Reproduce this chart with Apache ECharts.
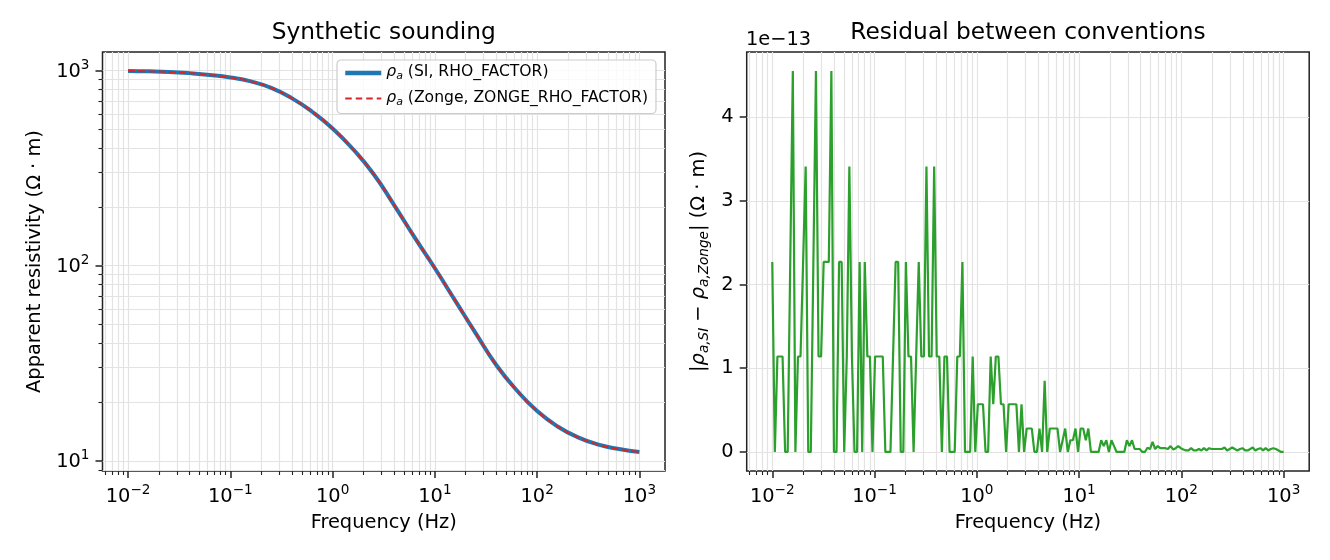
<!DOCTYPE html>
<html>
<head>
<meta charset="utf-8">
<title>Synthetic sounding</title>
<script src="https://cdn.jsdelivr.net/npm/echarts@6/dist/echarts.min.js"></script>
<style>
  html, body { margin: 0; padding: 0; background: #fff; }
  #main { width: 1330px; height: 560px; }
</style>
</head>
<body>
<div id="main"></div>
<script>
// ---- data ----
// left panel: apparent resistivity curve (both conventions coincide)
var sndFreqHz = [0.01, 0.01585, 0.02512, 0.03981, 0.0631, 0.1, 0.1585, 0.2512, 0.3981, 0.631,
                 1, 1.585, 2.512, 3.981, 6.31, 10, 15.85, 25.12, 39.81, 63.1,
                 100, 158.5, 251.2, 398.1, 631, 1000];
var rhoSI    = [995, 991, 984, 970, 950, 922, 880, 815, 722, 615,
                505, 395, 295, 205, 140, 97, 66, 45, 31, 23,
                18, 15, 13.2, 12.1, 11.5, 11.1];
var rhoZonge = [995, 991, 984, 970, 950, 922, 880, 815, 722, 615,
                505, 395, 295, 205, 140, 97, 66, 45, 31, 23,
                18, 15, 13.2, 12.1, 11.5, 11.1];

// right panel: |rho_SI - rho_Zonge| in units of 1e-13, 200 log-spaced samples 1e-2 .. 1e3 Hz
var F_MIN = 0.01, F_MAX = 1000, N_FREQ = 200;
var residualE13 = [
  2.27, 0, 1.14, 1.14, 1.14, 0, 0, 2.27, 4.55, 0,
  1.14, 1.14, 2.27, 3.41, 0, 0, 2.27, 4.55, 1.14, 1.14,
  2.27, 2.27, 2.27, 4.55, 0, 0, 2.27, 2.27, 0, 1.14,
  3.41, 1.14, 0, 0, 2.27, 0, 2.27, 1.14, 1.14, 0,
  1.14, 1.14, 1.14, 1.14, 0, 0, 0, 1.14, 2.27, 2.27,
  0, 0, 2.27, 1.14, 1.14, 0, 1.14, 2.27, 1.14, 1.14,
  3.41, 1.14, 1.14, 3.41, 1.14, 1.14, 0, 1.14, 1.14, 0,
  0, 0, 1.14, 1.14, 2.27, 0, 0, 0, 1.14, 0,
  0.57, 0.57, 0.57, 0, 0, 1.14, 0.57, 1.14, 1.14, 0.57,
  0.57, 0, 0.57, 0.57, 0.57, 0.57, 0, 0.57, 0, 0.28,
  0.28, 0.28, 0, 0, 0.28, 0, 0.85, 0, 0.28, 0.28,
  0.28, 0.28, 0, 0.14, 0.28, 0, 0.14, 0.14, 0.28, 0,
  0.28, 0.28, 0.14, 0.28, 0, 0, 0, 0, 0.14, 0.07,
  0.14, 0, 0.14, 0.07, 0, 0, 0, 0, 0.14, 0.07,
  0.14, 0.035, 0.035, 0.035, 0, 0, 0.05, 0.035, 0.12, 0.035,
  0.07, 0.045, 0.045, 0.045, 0.035, 0.07, 0.03, 0.045, 0.07, 0.045,
  0.03, 0.018, 0.018, 0.045, 0.018, 0.018, 0.035, 0.018, 0.045, 0.018,
  0.045, 0.035, 0.035, 0.035, 0.035, 0.035, 0.053, 0.018, 0.035, 0.053,
  0.035, 0.018, 0.035, 0.045, 0.018, 0.018, 0.035, 0.053, 0.018, 0.035,
  0.045, 0.018, 0.045, 0.018, 0.035, 0.045, 0.035, 0.018, 0, 0
];

// tick positions
var xMajor = [0.01, 0.1, 1, 10, 100, 1000];
var yMajorRho = [10, 100, 1000];
var yMajorRes = [0, 1, 2, 3, 4];

// ---- helpers ----
var FONT = 'DejaVu Sans';
var FS = 19.4;          // tick / axis label size
var GRID_C = '#e3e3e3';
var FRAME_C = '#222222';

var resFreqHz = [];
for (var i = 0; i < N_FREQ; i++) {
  resFreqHz.push(F_MIN * Math.pow(F_MAX / F_MIN, i / (N_FREQ - 1)));
}

function pairs(xs, ys) {
  return xs.map(function (x, k) { return [x, ys[k]]; });
}

function minorTicks(lo, hi) {
  var out = [];
  for (var e = Math.floor(Math.log10(lo)); e <= Math.ceil(Math.log10(hi)); e++) {
    for (var m = 2; m <= 9; m++) {
      var v = +(m * Math.pow(10, e)).toPrecision(3);
      if (v > lo && v < hi) out.push(v);
    }
  }
  return out;
}

function pow10Label(v) {
  var e = Math.round(Math.log10(v));
  return '{b|10}{s|' + (e < 0 ? '\u2212' + (-e) : e) + '}';
}

var powRich = {
  b: { fontFamily: FONT, fontSize: FS, color: '#000', lineHeight: 22, verticalAlign: 'bottom' },
  s: { fontFamily: FONT, fontSize: 13.6, color: '#000', lineHeight: 14, verticalAlign: 'bottom', padding: [0, 0, 9, 0] }
};

var X_MIN = Math.pow(10, -2.25), X_MAX = Math.pow(10, 3.25);
var Y_RHO_MIN = Math.pow(10, 0.948), Y_RHO_MAX = Math.pow(10, 3.095);
var Y_RES_MIN = -0.2275, Y_RES_MAX = 4.7775;

var majorTickStyle = { color: FRAME_C, width: 1.5 };
var minorTickStyle = { color: FRAME_C, width: 1.1 };
var gridLineStyle = { color: GRID_C, width: 1.2 };

function majorLogX(gridIndex, name) {
  return {
    type: 'log', logBase: 10, gridIndex: gridIndex, position: 'bottom',
    min: X_MIN, max: X_MAX,
    name: name, nameLocation: 'middle', nameGap: 41,
    nameTextStyle: { fontFamily: FONT, fontSize: FS, color: '#000', lineHeight: 22 },
    axisLine: { show: false, onZero: false },
    axisTick: { show: true, length: 7, customValues: xMajor, lineStyle: majorTickStyle },
    axisLabel: { customValues: xMajor, formatter: pow10Label, rich: powRich, margin: 13 },
    splitLine: { show: true, lineStyle: gridLineStyle }
  };
}

function minorLogX(gridIndex) {
  return {
    type: 'log', logBase: 10, gridIndex: gridIndex, position: 'bottom',
    min: X_MIN, max: X_MAX,
    axisLine: { show: false, onZero: false },
    axisTick: { show: true, length: 4, customValues: minorTicks(X_MIN, X_MAX), lineStyle: minorTickStyle },
    axisLabel: { show: false },
    splitLine: { show: true, lineStyle: gridLineStyle }
  };
}

var chart = echarts.init(document.getElementById('main'));

chart.setOption({
  animation: false,
  backgroundColor: '#fff',
  textStyle: { fontFamily: FONT },
  grid: [
    { left: 102.5, top: 52, width: 562.5, height: 419, show: true, borderColor: FRAME_C, borderWidth: 1.5, backgroundColor: 'transparent' },
    { left: 746.7, top: 52, width: 562.5, height: 419, show: true, borderColor: FRAME_C, borderWidth: 1.5, backgroundColor: 'transparent' }
  ],
  graphic: [
    { type: 'text', x: 383.75, y: 33, style: { text: 'Synthetic sounding', fill: '#000', fontFamily: FONT, fontSize: 23.3, align: 'center', verticalAlign: 'middle' } },
    { type: 'text', x: 1027.95, y: 33, style: { text: 'Residual between conventions', fill: '#000', fontFamily: FONT, fontSize: 23.3, align: 'center', verticalAlign: 'middle' } },
    { type: 'text', x: 746, y: 40, style: { text: '1e\u221213', fill: '#000', fontFamily: FONT, fontSize: FS, align: 'left', verticalAlign: 'middle' } }
  ],
  legend: {
    data: [
      { name: 'SI', lineStyle: { width: 4.5 } },
      { name: 'Zonge', lineStyle: { width: 2, type: [6.5, 4] } }
    ],
    orient: 'vertical',
    left: 337, top: 60,
    padding: [4, 8, 6, 6],
    itemWidth: 36, itemHeight: 14, itemGap: 7.5,
    itemStyle: { opacity: 0 },
    backgroundColor: 'rgba(255,255,255,0.8)',
    borderColor: '#cccccc', borderWidth: 1.2, borderRadius: 4,
    formatter: function (name) {
      var tail = name === 'SI' ? ' (SI, RHO_FACTOR)' : ' (Zonge, ZONGE_RHO_FACTOR)';
      return '{i|\u03c1}{sub|a}{t|' + tail + '}';
    },
    textStyle: {
      rich: {
        i: { fontFamily: FONT, fontSize: 15.6, fontStyle: 'italic', color: '#000', lineHeight: 18, verticalAlign: 'bottom', padding: [0, 0, 2, 0] },
        sub: { fontFamily: FONT, fontSize: 11, fontStyle: 'italic', color: '#000', lineHeight: 13, verticalAlign: 'bottom' },
        t: { fontFamily: FONT, fontSize: 15.6, color: '#000', lineHeight: 18, verticalAlign: 'bottom', padding: [0, 0, 2, 0] }
      }
    }
  },
  xAxis: [
    majorLogX(0, 'Frequency (Hz)'),
    minorLogX(0),
    majorLogX(1, 'Frequency (Hz)'),
    minorLogX(1)
  ],
  yAxis: [
    {
      type: 'log', logBase: 10, gridIndex: 0, position: 'left',
      min: Y_RHO_MIN, max: Y_RHO_MAX,
      name: 'Apparent resistivity (\u03a9 \u00b7 m)', nameLocation: 'middle', nameGap: 57, nameRotate: 90,
      nameTextStyle: { fontFamily: FONT, fontSize: FS, color: '#000', lineHeight: 22 },
      axisLine: { show: false, onZero: false },
      axisTick: { show: true, length: 7, customValues: yMajorRho, lineStyle: majorTickStyle },
      axisLabel: { customValues: yMajorRho, formatter: pow10Label, rich: powRich, margin: 13 },
      splitLine: { show: true, lineStyle: gridLineStyle }
    },
    {
      type: 'log', logBase: 10, gridIndex: 0, position: 'left',
      min: Y_RHO_MIN, max: Y_RHO_MAX,
      axisLine: { show: false, onZero: false },
      axisTick: { show: true, length: 4, customValues: minorTicks(Y_RHO_MIN, Y_RHO_MAX), lineStyle: minorTickStyle },
      axisLabel: { show: false },
      splitLine: { show: true, lineStyle: gridLineStyle }
    },
    {
      type: 'value', gridIndex: 1, position: 'left',
      min: Y_RES_MIN, max: Y_RES_MAX,
      name: '{t||}{i|\u03c1}{sub|a,SI}{t| \u2212 }{i|\u03c1}{sub|a,Zonge}{t|| (\u03a9 \u00b7 m)}',
      nameLocation: 'middle', nameGap: 35, nameRotate: 90,
      nameTextStyle: {
        rich: {
          t: { fontFamily: FONT, fontSize: FS, color: '#000', lineHeight: 22, verticalAlign: 'bottom', padding: [0, 0, 3, 0] },
          i: { fontFamily: FONT, fontSize: FS, fontStyle: 'italic', color: '#000', lineHeight: 22, verticalAlign: 'bottom', padding: [0, 0, 3, 0] },
          sub: { fontFamily: FONT, fontSize: 13.6, fontStyle: 'italic', color: '#000', lineHeight: 14, verticalAlign: 'bottom' }
        }
      },
      axisLine: { show: false, onZero: false },
      axisTick: { show: true, length: 7, customValues: yMajorRes, lineStyle: majorTickStyle },
      axisLabel: { customValues: yMajorRes, fontFamily: FONT, fontSize: FS, color: '#000', margin: 13 },
      splitLine: { show: true, lineStyle: gridLineStyle }
    }
  ],
  series: [
    {
      name: 'SI', type: 'line', xAxisIndex: 0, yAxisIndex: 0,
      data: pairs(sndFreqHz, rhoSI), smooth: true, symbol: 'none',
      lineStyle: { color: '#1f77b4', width: 4 }, itemStyle: { color: '#1f77b4' }, z: 3
    },
    {
      name: 'Zonge', type: 'line', xAxisIndex: 0, yAxisIndex: 0,
      data: pairs(sndFreqHz, rhoZonge), smooth: true, symbol: 'none',
      lineStyle: { color: '#d62728', width: 2, type: [7, 3.2] }, itemStyle: { color: '#d62728' }, z: 4
    },
    {
      name: 'residual', type: 'line', xAxisIndex: 2, yAxisIndex: 2,
      data: pairs(resFreqHz, residualE13), symbol: 'none',
      lineStyle: { color: '#2ca02c', width: 2.2 }, itemStyle: { color: '#2ca02c' }, z: 3
    }
  ]
});
</script>
</body>
</html>
